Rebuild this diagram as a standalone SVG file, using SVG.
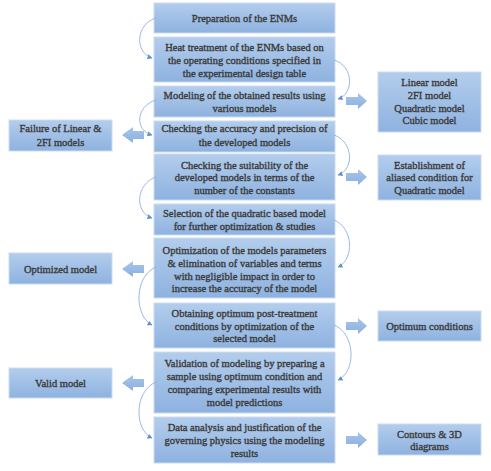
<svg xmlns="http://www.w3.org/2000/svg" width="491" height="471" viewBox="0 0 491 471">
<defs>
<linearGradient id="g" x1="0" y1="0" x2="0" y2="1">
<stop offset="0" stop-color="#b3cdec"/>
<stop offset="1" stop-color="#8eb2e0"/>
</linearGradient>
<linearGradient id="ga" x1="0" y1="0" x2="0" y2="1">
<stop offset="0" stop-color="#a9c6ea"/>
<stop offset="1" stop-color="#8aafdf"/>
</linearGradient>
<marker id="ah" viewBox="0 0 10 10" refX="9" refY="5" markerWidth="5" markerHeight="5" orient="auto" markerUnits="userSpaceOnUse">
<path d="M0,0 L10,5 L0,10 Z" fill="#5b8fd0"/>
</marker>
<path id="ra" d="M0,-4 H12 V-8 L21,0 L12,8 V4 H0 Z"/>
<path id="la" d="M0,0 L11,-8 V-4 H22 V4 H11 V8 Z"/>
</defs>
<style>
rect.b{fill:url(#g);stroke:#c9dbf1;stroke-width:1}
text{font-family:"Liberation Serif","DejaVu Serif",serif;font-size:10.5px;font-weight:normal;fill:#3a3a3a;stroke:#3a3a3a;stroke-width:0.35;text-anchor:middle}
.c{fill:none;stroke:#7fa8dc;stroke-width:0.8;marker-end:url(#ah)}
.ar{fill:url(#ga)}
</style>
<rect width="491" height="471" fill="#ffffff"/>
<g id="n1"><rect class="b" x="154" y="3" width="181" height="30"/><text x="244.5" y="22">Preparation of the ENMs</text></g>
<g id="n2"><rect class="b" x="154" y="37" width="181" height="45"/><text x="244.5" y="51">Heat treatment of the ENMs based on</text><text x="244.5" y="64">the operating conditions specified in</text><text x="244.5" y="77">the experimental design table</text></g>
<g id="n3"><rect class="b" x="154" y="86" width="181" height="31"/><text x="244.5" y="99">Modeling of the obtained results using</text><text x="244.5" y="112">various models</text></g>
<g id="n4"><rect class="b" x="154" y="121" width="181" height="31"/><text x="244.5" y="132">Checking the accuracy and precision of</text><text x="244.5" y="146">the developed models</text></g>
<g id="n5"><rect class="b" x="154" y="154" width="181" height="46"/><text x="244.5" y="169">Checking the suitability of the</text><text x="244.5" y="181">developed models in terms of the</text><text x="244.5" y="194">number of the constants</text></g>
<g id="n6"><rect class="b" x="154" y="204" width="181" height="31"/><text x="244.5" y="217">Selection of the quadratic based model</text><text x="244.5" y="230">for further optimization &amp; studies</text></g>
<g id="n7"><rect class="b" x="154" y="238" width="181" height="60"/><text x="244.5" y="254">Optimization of the models parameters</text><text x="244.5" y="267">&amp; elimination of variables and terms</text><text x="244.5" y="280">with negligible impact in order to</text><text x="244.5" y="292">increase the accuracy of the model</text></g>
<g id="n8"><rect class="b" x="154" y="303" width="181" height="45"/><text x="244.5" y="317">Obtaining optimum post-treatment</text><text x="244.5" y="330">conditions by optimization of the</text><text x="244.5" y="342">selected model</text></g>
<g id="n9"><rect class="b" x="154" y="352" width="181" height="61"/><text x="244.5" y="367">Validation of modeling by preparing a</text><text x="244.5" y="380">sample using optimum condition and</text><text x="244.5" y="393">comparing experimental results with</text><text x="244.5" y="406">model predictions</text></g>
<g id="n10"><rect class="b" x="154" y="417" width="181" height="46"/><text x="244.5" y="431">Data analysis and justification of the</text><text x="244.5" y="444">governing physics using the modeling</text><text x="244.5" y="457">results</text></g>
<g id="l1"><rect class="b" x="9" y="120" width="103" height="31"/><text x="60.5" y="132">Failure of Linear &amp;</text><text x="60.5" y="146">2FI models</text></g>
<g id="l2"><rect class="b" x="9" y="253" width="103" height="31"/><text x="60.5" y="273">Optimized model</text></g>
<g id="l3"><rect class="b" x="9" y="368" width="103" height="30"/><text x="60.5" y="387">Valid model</text></g>
<g id="r1"><rect class="b" x="378" y="72" width="103" height="60"/><text x="429.5" y="86">Linear model</text><text x="429.5" y="99">2FI model</text><text x="429.5" y="112">Quadratic model</text><text x="429.5" y="124">Cubic model</text></g>
<g id="r2"><rect class="b" x="378" y="155" width="103" height="45"/><text x="429.5" y="169">Establishment of</text><text x="429.5" y="181">aliased condition for</text><text x="429.5" y="194">Quadratic model</text></g>
<g id="r3"><rect class="b" x="378" y="311" width="103" height="30"/><text x="429.5" y="330">Optimum conditions</text></g>
<g id="r4"><rect class="b" x="378" y="424" width="103" height="31"/><text x="429.5" y="438">Contours &amp; 3D</text><text x="429.5" y="450">diagrams</text></g>
<g id="connectors">
<path class="c" d="M156,18 C136,24 134,52 152,58"/>
<path class="c" d="M334,60 C354,66 354,94 338,99"/>
<path class="c" d="M156,100 C136,106 134,130 152,135"/>
<path class="c" d="M334,135 C354,142 354,170 338,175"/>
<path class="c" d="M156,177 C136,184 134,212 152,218"/>
<path class="c" d="M334,220 C354,228 354,260 338,267"/>
<path class="c" d="M156,267 C134,276 134,316 152,325"/>
<path class="c" d="M334,325 C356,334 356,372 338,380"/>
<path class="c" d="M156,382 C134,391 134,430 152,438"/>
<use href="#la" class="ar" x="122" y="135"/>
<use href="#la" class="ar" x="122" y="269"/>
<use href="#la" class="ar" x="122" y="383"/>
<use href="#ra" class="ar" x="346" y="101"/>
<use href="#ra" class="ar" x="346" y="177"/>
<use href="#ra" class="ar" x="346" y="326"/>
<use href="#ra" class="ar" x="346" y="440"/>
</g>
</svg>
